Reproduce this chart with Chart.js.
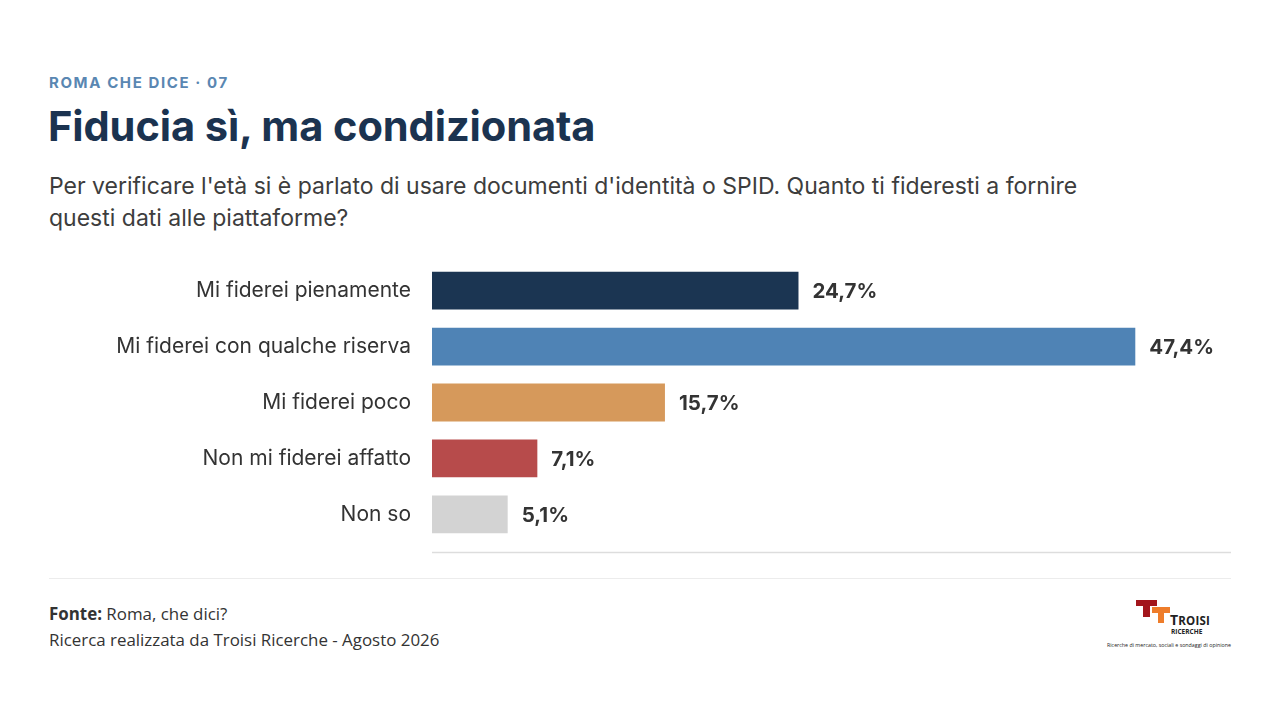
<!DOCTYPE html>
<html lang="it">
<head>
<meta charset="utf-8">
<script src="https://cdn.jsdelivr.net/npm/chart.js@4.4.1/dist/chart.umd.min.js"></script>
<style>
  html, body { margin: 0; padding: 0; background: #fff; }
  body { width: 1280px; height: 720px; position: relative; overflow: hidden; font-family: Inter, "Noto Sans", sans-serif; }
  .kicker { position: absolute; left: 49px; top: 73px; font-size: 15px; font-weight: 700; letter-spacing: 1.6px; color: #5a87b2; }
  .title { position: absolute; left: 48px; top: 101px; font-size: 41.6px; font-weight: 700; color: #1b3350; letter-spacing: -0.1px; }
  .sub { position: absolute; left: 49px; top: 170px; width: 1150px; font-size: 23px; line-height: 32px; color: #3d3d3d; }
  #wrap { position: absolute; left: 0; top: 229px; width: 1280px; height: 347px; }
  .sep { position: absolute; left: 49px; top: 578px; width: 1182px; height: 1px; background: #ececec; }
  .foot { position: absolute; left: 49px; top: 601px; font-family: "Open Sans", sans-serif; font-size: 16.9px; line-height: 26px; color: #333; }
  .foot b { font-weight: 700; }
  .logo { position: absolute; left: 1100px; top: 596px; width: 140px; height: 56px; }
  .lg { position: absolute; }
  .ltxt { position: absolute; font-family: "Open Sans", sans-serif; color: #222; }
</style>
</head>
<body>
<div class="kicker">ROMA CHE DICE · 07</div>
<div class="title">Fiducia sì, ma condizionata</div>
<div class="sub">Per verificare l'età si è parlato di usare documenti d'identità o SPID. Quanto ti fideresti a fornire<br>questi dati alle piattaforme?</div>
<div id="wrap"><canvas id="c"></canvas></div>
<div class="sep"></div>
<div class="foot"><b>Fonte:</b> Roma, che dici?<br>Ricerca realizzata da Troisi Ricerche - Agosto 2026</div>
<div class="logo">
  <div class="lg" style="left:36px;top:4px;width:21px;height:6px;background:#a3161c;"></div>
  <div class="lg" style="left:43px;top:10px;width:7px;height:11px;background:#a3161c;"></div>
  <div class="lg" style="left:52px;top:11px;width:18px;height:6px;background:#ee7d2b;"></div>
  <div class="lg" style="left:58px;top:17px;width:6px;height:10px;background:#ee7d2b;"></div>
  <div class="ltxt" style="left:70px;top:14px;font-size:14px;font-weight:700;letter-spacing:0.2px;">T<span style="font-size:11.5px">ROISI</span></div>
  <div class="ltxt" style="left:71px;top:31px;font-size:6.5px;font-weight:700;">RICERCHE</div>
  <div class="ltxt" style="left:7px;top:45px;font-size:5.3px;white-space:nowrap;">Ricerche di mercato, sociali e sondaggi di opinione</div>
</div>
<script>
const categories = ["Mi fiderei pienamente", "Mi fiderei con qualche riserva", "Mi fiderei poco", "Non mi fiderei affatto", "Non so"];
const values = [24.7, 47.4, 15.7, 7.1, 5.1];
const valueLabels = ["24,7%", "47,4%", "15,7%", "7,1%", "5,1%"];
const barColors = ["#1b3552", "#4f83b5", "#d6995b", "#b74b4b", "#d3d3d3"];
const axisMax = 53.85;

const valueLabelPlugin = {
  id: "valueLabels",
  afterDatasetsDraw(chart) {
    const ctx = chart.ctx;
    const meta = chart.getDatasetMeta(0);
    ctx.save();
    ctx.font = "700 20.5px Inter, 'Noto Sans', sans-serif";
    ctx.fillStyle = "#333333";
    ctx.textAlign = "left";
    ctx.textBaseline = "middle";
    meta.data.forEach((bar, i) => {
      ctx.fillText(valueLabels[i], bar.x + 14, bar.y + 1);
    });
    ctx.restore();
  }
};
const baseLinePlugin = {
  id: "baseLine",
  afterDraw(chart) {
    const { ctx, chartArea } = chart;
    const y = Math.round(chartArea.bottom + 9.5) + 0.5;
    ctx.save();
    ctx.strokeStyle = "#dddddd";
    ctx.lineWidth = 1.5;
    ctx.beginPath();
    ctx.moveTo(chartArea.left, y);
    ctx.lineTo(chartArea.right, y);
    ctx.stroke();
    ctx.restore();
  }
};

new Chart(document.getElementById("c"), {
  type: "bar",
  data: {
    labels: categories,
    datasets: [{
      data: values,
      backgroundColor: barColors,
      borderWidth: 0,
      categoryPercentage: 0.9,
      barPercentage: 0.75
    }]
  },
  options: {
    indexAxis: "y",
    responsive: true,
    maintainAspectRatio: false,
    animation: false,
    layout: { padding: { top: 0, bottom: 0, right: 49, left: 0 } },
    plugins: { legend: { display: false }, tooltip: { enabled: false } },
    scales: {
      x: { display: false, min: 0, max: axisMax },
      y: {
        grid: { display: false, drawTicks: false },
        border: { display: false },
        ticks: {
          padding: 21,
          color: "#333333",
          font: { family: "Inter, 'Noto Sans', sans-serif", size: 21, weight: "400" }
        },
        afterFit(scale) { scale.width = 432; }
      }
    }
  },
  plugins: [valueLabelPlugin, baseLinePlugin]
});
</script>
</body>
</html>
